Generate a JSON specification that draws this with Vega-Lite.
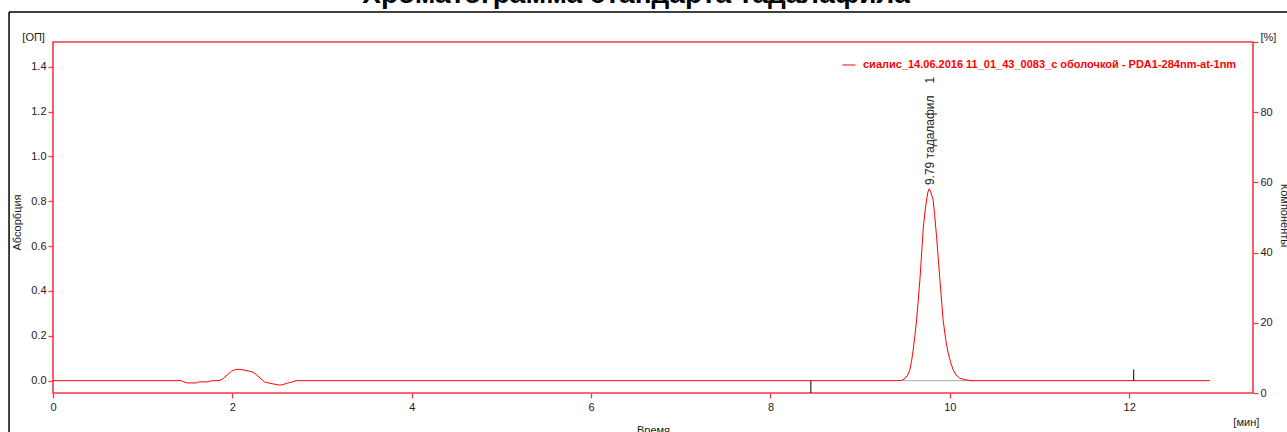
{
  "$schema": "https://vega.github.io/schema/vega-lite/v6.json",
  "width": 1200,
  "height": 351,
  "autosize": "none",
  "padding": {"left": 53, "top": 42, "right": 34, "bottom": 39},
  "background": "white",
  "title": {
    "text": "Хроматограмма стандарта тадалафила",
    "font": "Liberation Sans",
    "fontSize": 28,
    "fontWeight": "bold",
    "color": "#000000",
    "anchor": "middle",
    "dx": -17,
    "offset": 2
  },
  "config": {
    "view": {"stroke": "#f03a44", "strokeWidth": 1.6},
    "font": "Liberation Sans",
    "axis": {
      "grid": false,
      "domain": false,
      "labelFlush": false,
      "labelOverlap": false,
      "tickColor": "#f03a44",
      "tickWidth": 1.3,
      "tickSize": 5,
      "labelFont": "Liberation Sans",
      "labelFontSize": 11,
      "labelColor": "#222222",
      "titleFont": "Liberation Sans",
      "titleFontSize": 11,
      "titleFontWeight": "normal",
      "titleColor": "#222222"
    }
  },
  "datasets": {
    "chrom": [
      {"t": 0, "v": 0},
      {"t": 1.43, "v": 0},
      {"t": 1.47, "v": -0.007},
      {"t": 1.5, "v": -0.01},
      {"t": 1.6, "v": -0.01},
      {"t": 1.62, "v": -0.006},
      {"t": 1.72, "v": -0.005},
      {"t": 1.76, "v": -0.001},
      {"t": 1.86, "v": 0.001},
      {"t": 1.9, "v": 0.01},
      {"t": 1.95, "v": 0.028},
      {"t": 1.99, "v": 0.042},
      {"t": 2.03, "v": 0.049},
      {"t": 2.06, "v": 0.051},
      {"t": 2.12, "v": 0.048},
      {"t": 2.18, "v": 0.043},
      {"t": 2.23, "v": 0.038},
      {"t": 2.27, "v": 0.026},
      {"t": 2.32, "v": 0.008},
      {"t": 2.36, "v": -0.006},
      {"t": 2.41, "v": -0.011},
      {"t": 2.46, "v": -0.015},
      {"t": 2.53, "v": -0.02},
      {"t": 2.57, "v": -0.017},
      {"t": 2.6, "v": -0.012},
      {"t": 2.65, "v": -0.008},
      {"t": 2.71, "v": 0},
      {"t": 9.4, "v": 0},
      {"t": 9.46, "v": 0.001},
      {"t": 9.5, "v": 0.01},
      {"t": 9.53, "v": 0.025},
      {"t": 9.554, "v": 0.048},
      {"t": 9.572, "v": 0.085},
      {"t": 9.591, "v": 0.137},
      {"t": 9.61, "v": 0.2},
      {"t": 9.629, "v": 0.27},
      {"t": 9.666, "v": 0.449},
      {"t": 9.702, "v": 0.672},
      {"t": 9.72, "v": 0.745},
      {"t": 9.74, "v": 0.805},
      {"t": 9.755, "v": 0.84},
      {"t": 9.769, "v": 0.855},
      {"t": 9.785, "v": 0.845},
      {"t": 9.814, "v": 0.805},
      {"t": 9.83, "v": 0.74},
      {"t": 9.852, "v": 0.642},
      {"t": 9.889, "v": 0.449},
      {"t": 9.925, "v": 0.27},
      {"t": 9.955, "v": 0.18},
      {"t": 9.981, "v": 0.123},
      {"t": 10.01, "v": 0.08},
      {"t": 10.037, "v": 0.048},
      {"t": 10.07, "v": 0.025},
      {"t": 10.111, "v": 0.011},
      {"t": 10.17, "v": 0.004},
      {"t": 10.242, "v": 0},
      {"t": 12.9, "v": 0}
    ],
    "events": [
      {"t": 8.45, "y0": 0, "y1": -0.055},
      {"t": 12.05, "y0": 0, "y1": 0.05}
    ],
    "baseline": [{"t": 9.46, "t1": 10.27, "v": 0}],
    "peaks": [{"t": 9.78, "y": 0.872, "label": "9.79 тадалафил", "num": "1", "ynum": 1.34}],
    "units": [
      {"t": -0.09, "y": 1.528, "label": "[ОП]"},
      {"t": 13.45, "y": -0.189, "label": "[мин]"}
    ],
    "frame": [
      {"t": -0.49, "t1": 14.5, "y": 1.644, "y1": 1.644},
      {"t": -0.49, "t1": -0.49, "y": 1.644, "y1": -0.3}
    ],
    "pct": [{"p": 0}, {"p": 100}]
  },
  "layer": [
    {
      "layer": [
        {
          "data": {"name": "frame"},
          "mark": {"type": "rule", "color": "#000000", "strokeWidth": 1.5, "clip": false},
          "encoding": {
            "x": {"field": "t", "type": "quantitative", "title": "Время", "scale": {"domain": [0, 13.38], "nice": false, "zero": false}},
            "x2": {"field": "t1"},
            "y": {"field": "y", "type": "quantitative", "title": "Абсорбция", "scale": {"domain": [-0.055, 1.51], "nice": false, "zero": false}},
            "y2": {"field": "y1"}
          }
        },
        {
          "data": {"name": "baseline"},
          "mark": {"type": "rule", "color": "#aaaaaa", "strokeWidth": 1},
          "encoding": {
            "x": {"field": "t", "type": "quantitative", "title": "Время"},
            "x2": {"field": "t1"},
            "y": {"field": "v", "type": "quantitative", "title": "Абсорбция"}
          }
        },
        {
          "data": {"name": "chrom"},
          "mark": {"type": "line", "strokeWidth": 1, "interpolate": "linear"},
          "encoding": {
            "x": {
              "field": "t", "type": "quantitative", "title": "Время",
              "scale": {"domain": [0, 13.38], "nice": false, "zero": false},
              "axis": {"values": [0, 2, 4, 6, 8, 10, 12], "format": "d", "labelPadding": 3, "titleY": 37, "titleBaseline": "middle"}
            },
            "y": {
              "field": "v", "type": "quantitative", "title": "Абсорбция",
              "scale": {"domain": [-0.055, 1.51], "nice": false, "zero": false},
              "axis": {"values": [0, 0.2, 0.4, 0.6, 0.8, 1.0, 1.2, 1.4], "format": ".1f", "labelPadding": 2, "titleX": -36, "titleY": 180, "titleAngle": 270, "titleAlign": "center", "titleBaseline": "middle"}
            },
            "color": {
              "datum": "сиалис_14.06.2016 11_01_43_0083_с оболочкой - PDA1-284nm-at-1nm",
              "type": "nominal",
              "scale": {"range": ["#ff0000"]},
              "legend": {
                "title": null,
                "orient": "top-right",
                "offset": 16,
                "padding": 0,
                "symbolType": "stroke",
                "symbolSize": 169,
                "symbolStrokeWidth": 1,
                "labelFont": "Liberation Sans",
                "labelFontWeight": "bold",
                "labelFontSize": 11,
                "labelColor": "#ff0000",
                "labelLimit": 0,
                "labelOffset": 7
              }
            }
          }
        },
        {
          "data": {"name": "events"},
          "mark": {"type": "rule", "color": "#000000", "strokeWidth": 1},
          "encoding": {
            "x": {"field": "t", "type": "quantitative", "title": "Время"},
            "y": {"field": "y0", "type": "quantitative", "title": "Абсорбция"},
            "y2": {"field": "y1"}
          }
        },
        {
          "data": {"name": "peaks"},
          "mark": {"type": "text", "angle": 270, "align": "left", "baseline": "middle", "fontSize": 12, "color": "#222222", "font": "Liberation Sans"},
          "encoding": {
            "x": {"field": "t", "type": "quantitative", "title": "Время"},
            "y": {"field": "y", "type": "quantitative", "title": "Абсорбция"},
            "text": {"field": "label"}
          }
        },
        {
          "data": {"name": "peaks"},
          "mark": {"type": "text", "angle": 270, "align": "center", "baseline": "middle", "fontSize": 12, "color": "#222222", "font": "Liberation Sans"},
          "encoding": {
            "x": {"field": "t", "type": "quantitative", "title": "Время"},
            "y": {"field": "ynum", "type": "quantitative", "title": "Абсорбция"},
            "text": {"field": "num"}
          }
        },
        {
          "data": {"name": "units"},
          "mark": {"type": "text", "align": "right", "baseline": "middle", "fontSize": 11, "color": "#222222", "font": "Liberation Sans"},
          "encoding": {
            "x": {"field": "t", "type": "quantitative", "title": "Время"},
            "y": {"field": "y", "type": "quantitative", "title": "Абсорбция"},
            "text": {"field": "label"}
          }
        }
      ]
    },
    {
      "data": {"name": "pct"},
      "mark": {"type": "point", "opacity": 0},
      "encoding": {
        "y": {
          "field": "p", "type": "quantitative", "title": "Компоненты",
          "scale": {"domain": [0, 100], "nice": false, "zero": false},
          "axis": {
            "orient": "right",
            "values": [0, 20, 40, 60, 80, 100],
            "labelExpr": "datum.value == 100 ? '[%]' : datum.label",
            "labelBaseline": {"condition": {"test": "datum.value == 100", "value": "bottom"}, "value": "middle"},
            "labelPadding": 2,
            "titleAngle": 90,
            "titleX": 30,
            "titleY": 173,
            "titleAlign": "center",
            "titleBaseline": "middle"
          }
        }
      }
    }
  ],
  "resolve": {"scale": {"y": "independent"}, "axis": {"y": "independent"}}
}
